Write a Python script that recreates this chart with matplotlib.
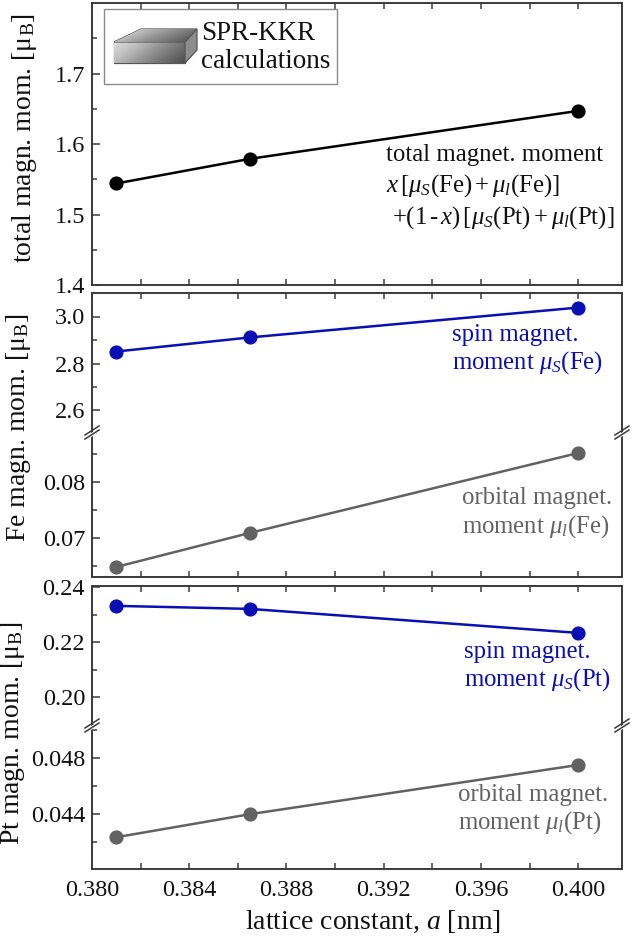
import matplotlib
matplotlib.use("Agg")
import matplotlib.pyplot as plt
import numpy as np
from matplotlib.patches import Polygon, Rectangle
from matplotlib.ticker import MultipleLocator, FormatStrFormatter

plt.rcParams['font.family'] = ['Liberation Serif', 'DejaVu Serif']
plt.rcParams['mathtext.fontset'] = 'custom'
plt.rcParams['mathtext.rm'] = 'Liberation Serif'
plt.rcParams['mathtext.it'] = 'Liberation Serif:italic'
plt.rcParams['mathtext.bf'] = 'Liberation Serif:bold'

# ---- data ----
lattice = [0.381, 0.3865, 0.400]
total_moment = [1.544, 1.579, 1.647]
fe_spin = [2.851, 2.911, 3.038]
fe_orbital = [0.0648, 0.0709, 0.0852]
pt_spin = [0.2332, 0.2321, 0.2234]
pt_orbital = [0.04236, 0.0440, 0.0475]
x_ticks = [0.380, 0.384, 0.388, 0.392, 0.396, 0.400]

BLUE = '#0a0fb4'
GRAY = '#626262'
SPINE = '#3a3a3a'
TXT = '#111111'

W, H = 633, 936
fig = plt.figure(figsize=(W / 100, H / 100), dpi=100)


def rect(left, top, right, bottom):
    return [left / W, 1 - bottom / H, (right - left) / W, (bottom - top) / H]


L, R = 92, 622
MS, LW = 9.2, 1.8


def style(ax, xlabels=False, bottom_ticks=True, top_ticks=True):
    for s in ax.spines.values():
        s.set_color(SPINE)
        s.set_linewidth(1.4)
    ax.set_xlim(0.380, 0.4018)
    ax.set_xticks(x_ticks)
    ax.xaxis.set_minor_locator(MultipleLocator(0.002))
    ax.tick_params(axis='both', which='both', direction='in', colors=SPINE,
                   labelcolor=TXT)
    ax.tick_params(axis='y', which='major', length=5.5, width=1.1, labelsize=17.5, right=False, pad=5)
    ax.tick_params(axis='y', which='minor', length=3.5, width=1.1, right=False)
    ax.tick_params(axis='x', which='both', length=4, width=1.1,
                   labelsize=17.5, top=top_ticks, bottom=bottom_ticks,
                   labelbottom=xlabels, labeltop=False, pad=8)
    ax.xaxis.set_major_formatter(FormatStrFormatter('%.3f'))


# ---- panel 1: total moment ----
ax1 = fig.add_axes(rect(L, 3, R, 285))
style(ax1)
ax1.plot(lattice, total_moment, color='black', lw=LW, marker='o', ms=MS)
ax1.set_ylim(1.4, 1.8)
ax1.set_yticks([1.4, 1.5, 1.6, 1.7])
ax1.yaxis.set_minor_locator(MultipleLocator(0.05))
ax1.yaxis.set_major_formatter(FormatStrFormatter('%.1f'))

# ---- panel 2: Fe (broken) ----
ax2u = fig.add_axes(rect(L, 293, R, 434))
ax2l = fig.add_axes(rect(L, 434, R, 577))
style(ax2u, bottom_ticks=False, top_ticks=True)
style(ax2l, bottom_ticks=True, top_ticks=False)
ax2u.spines['bottom'].set_visible(False)
ax2l.spines['top'].set_visible(False)
ax2u.plot(lattice, fe_spin, color=BLUE, lw=LW, marker='o', ms=MS)
ax2u.set_ylim(2.5, 3.1)
ax2u.set_yticks([2.6, 2.8, 3.0])
ax2u.yaxis.set_minor_locator(MultipleLocator(0.1))
ax2u.yaxis.set_major_formatter(FormatStrFormatter('%.1f'))
ax2l.plot(lattice, fe_orbital, color=GRAY, lw=LW, marker='o', ms=MS)
ax2l.set_ylim(0.063, 0.0886)
ax2l.set_yticks([0.07, 0.08])
ax2l.yaxis.set_minor_locator(MultipleLocator(0.005))
ax2l.yaxis.set_major_formatter(FormatStrFormatter('%.2f'))

# ---- panel 3: Pt (broken) ----
ax3u = fig.add_axes(rect(L, 586, R, 727))
ax3l = fig.add_axes(rect(L, 727, R, 869))
style(ax3u, bottom_ticks=False, top_ticks=True)
style(ax3l, xlabels=True, bottom_ticks=True, top_ticks=False)
ax3u.spines['bottom'].set_visible(False)
ax3l.spines['top'].set_visible(False)
ax3u.plot(lattice, pt_spin, color=BLUE, lw=LW, marker='o', ms=MS)
ax3u.set_ylim(0.1893, 0.2404)
ax3u.set_yticks([0.20, 0.22, 0.24])
ax3u.yaxis.set_minor_locator(MultipleLocator(0.01))
ax3u.yaxis.set_major_formatter(FormatStrFormatter('%.2f'))
ax3l.plot(lattice, pt_orbital, color=GRAY, lw=LW, marker='o', ms=MS)
ax3l.set_ylim(0.0401, 0.0502)
ax3l.set_yticks([0.044, 0.048])
ax3l.yaxis.set_minor_locator(MultipleLocator(0.002))
ax3l.yaxis.set_major_formatter(FormatStrFormatter('%.3f'))

# ---- overlay in pixel coordinates ----
ov = fig.add_axes([0, 0, 1, 1], zorder=10)
ov.axis('off')
ov.patch.set_alpha(0)

# break marks
for yb in (434, 727):
    for xb in (L, R):
        ov.add_patch(Polygon([[xb - 7, yb + 3], [xb + 7, yb - 6], [xb + 7, yb - 2], [xb - 7, yb + 7]],
                             closed=True, facecolor='white', edgecolor='none'))
        for dy in (0, 4):
            ov.plot([xb - 7, xb + 7], [yb + 3 + dy - 2, yb - 6 + dy - 2], color=SPINE, lw=1.1)

# legend box with 3D block
ov.add_patch(Rectangle((104, 9), 233, 75, facecolor='white', edgecolor='#8a8a8a', lw=1.0))
front = Polygon([[114, 42], [185, 42], [185, 63], [114, 63]], closed=True, facecolor='none',
                edgecolor='#555555', lw=0.9)
top = Polygon([[114, 42], [141, 29], [197, 29], [185, 42]], closed=True, facecolor='none',
              edgecolor='#555555', lw=0.9)
side = Polygon([[185, 42], [197, 29], [197, 50], [185, 63]], closed=True, facecolor='#8c8c8c',
               edgecolor='#555555', lw=0.9)
grad = np.linspace(0, 1, 64)[None, :] + np.linspace(0, 0.4, 32)[:, None]
for poly, ext in ((front, (114, 185, 63, 42)), (top, (114, 197, 42, 29))):
    ov.add_patch(poly)
    im = ov.imshow(grad, cmap='Greys', vmin=-0.6, vmax=2.0,
                   extent=ext, aspect='auto', interpolation='bilinear', zorder=1)
    im.set_clip_path(poly)
ov.add_patch(side)
ov.set_xlim(0, W)
ov.set_ylim(H, 0)
ov.text(201, 33, 'SPR-KKR', fontsize=19.5, va='center', ha='left', color=TXT)
ov.text(201, 62, 'calculations', fontsize=19.5, va='center', ha='left', color=TXT)

# annotations
fs = 17.8
ov.text(386, 155, 'total magnet. moment', fontsize=fs, va='center', ha='left', color=TXT)
ov.text(386, 186, r'$x\,[\mu_S(\mathrm{Fe})+\mu_l(\mathrm{Fe})]$', fontsize=fs, va='center',
        ha='left', color=TXT)
ov.text(392, 218, r'$+(1\,$-$\,x)\,[\mu_S(\mathrm{Pt})+\mu_l(\mathrm{Pt})]$', fontsize=fs,
        va='center', ha='left', color=TXT)

ov.text(452, 335, 'spin magnet.', fontsize=fs, va='center', ha='left', color=BLUE)
ov.text(452, 363, r'moment $\mu_S$(Fe)', fontsize=fs, va='center', ha='left', color=BLUE)
ov.text(462, 498, 'orbital magnet.', fontsize=fs, va='center', ha='left', color=GRAY)
ov.text(462, 527, r'moment $\mu_l$(Fe)', fontsize=fs, va='center', ha='left', color=GRAY)
ov.text(464, 652, 'spin magnet.', fontsize=fs, va='center', ha='left', color=BLUE)
ov.text(464, 680, r'moment $\mu_S$(Pt)', fontsize=fs, va='center', ha='left', color=BLUE)
ov.text(458, 795, 'orbital magnet.', fontsize=fs, va='center', ha='left', color=GRAY)
ov.text(458, 823, r'moment $\mu_l$(Pt)', fontsize=fs, va='center', ha='left', color=GRAY)

# axis labels
ylfs = 20
ov.text(25, 138, r'total magn. mom. [$\mathrm{μ}_\mathrm{B}$]', fontsize=ylfs, rotation=90,
        va='center', ha='center', color=TXT)
ov.text(19, 428, r'Fe magn. mom. [$\mathrm{μ}_\mathrm{B}$]', fontsize=ylfs, rotation=90,
        va='center', ha='center', color=TXT)
ov.text(13, 733, r'Pt magn. mom. [$\mathrm{μ}_\mathrm{B}$]', fontsize=ylfs, rotation=90,
        va='center', ha='center', color=TXT)
ov.text(373, 922, r'lattice constant, $a$ [nm]', fontsize=20, va='center', ha='center',
        color=TXT)

fig.savefig('out.png', dpi=100)
